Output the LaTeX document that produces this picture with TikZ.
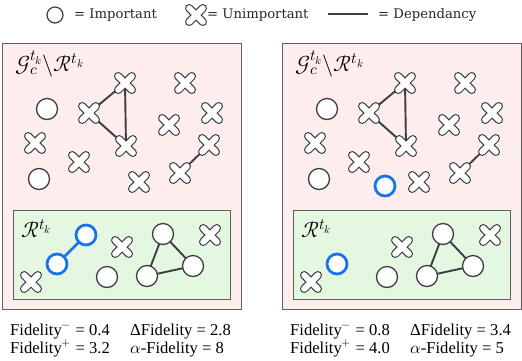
\documentclass[tikz,border=0pt]{standalone}
\usepackage{fontspec}
\usepackage{unicode-math}
\setmainfont{Liberation Serif}
\setmathfont{Latin Modern Math}
\newfontfamily\legfont{DejaVu Serif}
\pgfdeclarelayer{bg}
\pgfdeclarelayer{edges}
\pgfsetlayers{bg,edges,main}
\definecolor{cgray}{RGB}{60,62,66}
\definecolor{bgray}{RGB}{95,95,95}
\definecolor{cpink}{RGB}{253,237,236}
\definecolor{cgreen}{RGB}{228,247,224}
\definecolor{cblue}{RGB}{26,115,232}
\tikzset{
  imp/.style={circle, draw=cgray, fill=white, line width=1.3pt, minimum size=21pt, inner sep=0pt},
  bimp/.style={imp, draw=cblue, line width=2.8pt, minimum size=20pt},
  dep/.style={draw=cgray, line width=1.9pt},
  bdep/.style={draw=cblue, line width=2.8pt},
  outerbox/.style={draw=bgray, fill=cpink, line width=1pt},
  innerbox/.style={draw=bgray, fill=cgreen, line width=1pt},
  unimp/.style={circle, inner sep=0pt, minimum size=30pt,
    path picture={
      \coordinate (pc) at (path picture bounding box.center);
      \draw[line width=8.4pt, cgray, line cap=round]
        ([shift={(-6.8,-6.8)}]pc) -- ([shift={(6.8,6.8)}]pc)
        ([shift={(-6.8,6.8)}]pc) -- ([shift={(6.8,-6.8)}]pc);
      \draw[line width=6pt, white, line cap=round]
        ([shift={(-6.8,-6.8)}]pc) -- ([shift={(6.8,6.8)}]pc)
        ([shift={(-6.8,6.8)}]pc) -- ([shift={(6.8,-6.8)}]pc);
    }},
  legtext/.style={font=\legfont\fontsize{13.2}{15}\selectfont, anchor=west, inner sep=0pt, text=black!85},
  stat/.style={font=\fontsize{16.6}{18}\selectfont, anchor=base west, inner sep=0pt},
  glabel/.style={font=\fontsize{22}{24}\selectfont, anchor=west, inner sep=0pt},
}
\begin{document}
\begin{tikzpicture}[x=1pt,y=-1pt]
\useasboundingbox (0,0) rectangle (522,360);
% legend
\node[imp, minimum size=16pt, line width=1.2pt] (lc) at (55,15) {};
\node[legtext] (lct) at (74,15) {= Important};
\node[unimp] (lx) at (196,15) {};
\node[legtext] (lxt) at (207,15) {= Unimportant};
\coordinate (la) at (328,14);
\coordinate (lb) at (368,14);
\draw[dep] (la) -- (lb);
\node[legtext] (ldt) at (378,15) {= Dependancy};

\foreach \p/\dx/\fm/\fp/\df/\af in {L/0/0.4/3.2/2.8/8, R/280/0.8/4.0/3.4/5}{
  \begin{scope}[xshift=\dx pt]
  \begin{pgfonlayer}{bg}
    \node[outerbox, minimum width=239pt, minimum height=266pt, anchor=north west, inner sep=0pt] (\p out) at (2,43) {};
    \node[innerbox, minimum width=217pt, minimum height=89pt, anchor=north west, inner sep=0pt] (\p in) at (13,210) {};
  \end{pgfonlayer}
  \node[glabel] (\p gl) at (15,64) {$\mathcal{G}_c^{t_k}\backslash\mathcal{R}^{t_k}$};
  \node[glabel] (\p rl) at (21,229) {$\mathcal{R}^{t_k}$};
  % upper region
  \node[imp] (\p c1) at (47,109) {};
  \node[imp] (\p c2) at (39,179) {};
  \node[unimp] (\p x1) at (125,83) {};
  \node[unimp] (\p x2) at (89,113) {};
  \node[unimp] (\p x3) at (126,146) {};
  \node[unimp] (\p x4) at (185,83) {};
  \node[unimp] (\p x5) at (212,113) {};
  \node[unimp] (\p x6) at (169,125) {};
  \node[unimp] (\p x7) at (35,143) {};
  \node[unimp] (\p x8) at (79,162) {};
  \node[unimp] (\p x9) at (139,182) {};
  \node[unimp] (\p x10) at (180,173) {};
  \node[unimp] (\p x11) at (209,145) {};
  \begin{pgfonlayer}{edges}
    \draw[dep] (\p x1.center) -- (\p x2.center) -- (\p x3.center) -- (\p x1.center);
    \draw[dep] (\p x10.center) -- (\p x11.center);
  \end{pgfonlayer}
  % lower region
  \node[unimp] (\p y1) at (122,247) {};
  \node[unimp] (\p y2) at (31,282) {};
  \node[unimp] (\p y3) at (210,235) {};
  \node[imp] (\p d1) at (107,277) {};
  \node[imp] (\p d2) at (163,234) {};
  \node[imp] (\p d3) at (193,266) {};
  \node[imp] (\p d4) at (147,276) {};
  \begin{pgfonlayer}{edges}
    \draw[dep] (\p d2.center) -- (\p d3.center) -- (\p d4.center) -- (\p d2.center);
  \end{pgfonlayer}
  % stats
  \node[stat] (\p s1) at (10,335) {Fidelity$^{-}$ = \fm};
  \node[stat] (\p s2) at (10,353) {Fidelity$^{+}$ = \fp};
  \node[stat] (\p s3) at (130,335) {ΔFidelity = \df};
  \node[stat] (\p s4) at (130,353) {$\alpha$-Fidelity = \af};
  \end{scope}
}
% blue (explanation) nodes
\node[bimp] (b1) at (86,235) {};
\node[bimp] (b2) at (57,264) {};
\begin{pgfonlayer}{edges}
  \draw[bdep] (b1.center) -- (b2.center);
\end{pgfonlayer}
\node[bimp] (b3) at (337,264) {};
\node[bimp] (b4) at (385,186) {};
\end{tikzpicture}
\end{document}
